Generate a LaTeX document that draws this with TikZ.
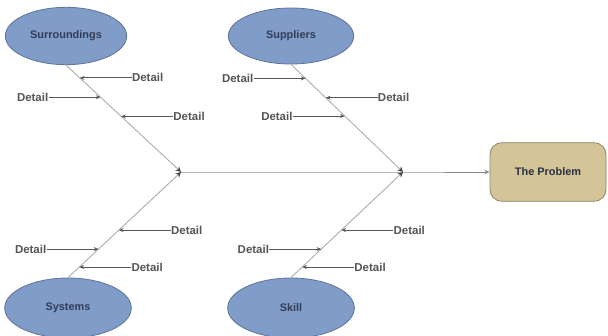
\documentclass[tikz,border=0pt]{standalone}
\usepackage{fontspec}
\setmainfont{Liberation Sans}
\usetikzlibrary{arrows.meta}
\usetikzlibrary{positioning}
\usetikzlibrary{shapes.geometric}

\definecolor{causefill}{RGB}{127,157,200}
\definecolor{causeline}{RGB}{95,115,150}
\definecolor{causetext}{RGB}{50,60,85}
\definecolor{probfill}{RGB}{212,197,152}
\definecolor{probline}{RGB}{140,130,105}
\definecolor{boneline}{RGB}{175,175,175}
\definecolor{spineline}{RGB}{140,140,140}
\definecolor{dettext}{RGB}{85,85,85}

\tikzset{
  cause/.style={ellipse, draw=causeline, fill=causefill, line width=0.6pt,
    minimum width=94pt, minimum height=43pt, text=causetext,
    font=\fontsize{8.2}{9}\selectfont\bfseries},
  problem/.style={rectangle, rounded corners=9pt, draw=probline, fill=probfill,
    line width=0.6pt, minimum width=87pt, minimum height=44pt,
    text=causetext!80!black, font=\fontsize{8.2}{9}\selectfont\bfseries},
  bone/.style={draw=boneline, line width=0.7pt, -{Stealth[length=4pt,width=4pt,color=black!75]}},
  spine/.style={draw=spineline, line width=0.6pt},
  detail/.style={inner sep=0pt, text=dettext, font=\fontsize{8.6}{9}\selectfont\bfseries},
  detarrow/.style={draw=black!65, line width=0.6pt, -{Stealth[length=3.5pt,width=3pt]}}
}

\begin{document}
\begin{tikzpicture}[x=0.75pt,y=0.75pt,yscale=-1,xscale=1]
\useasboundingbox (0,0) rectangle (608,336);

% causes
\node [cause, minimum width=91pt] (surr) at (66,36) {Surroundings};
\node [cause, minimum height=42pt] (supp) at (291,36) {Suppliers};
\node [cause, minimum width=95pt, minimum height=45pt] (syst) at (68,308) {Systems};
\node [cause, minimum width=95pt, minimum height=45pt] (skill) at (291,308) {Skill};

% the problem
\node [problem] (prob) at (548,172) {The Problem};

% junctions on the spine
\coordinate (j1) at (181,172);
\coordinate (j2) at (403,172);

% spine
\draw [spine, -{Stealth[length=4pt,width=3.5pt]}] (j1) -- (j2) -- (prob.west);

% bones
\draw [bone] (surr.south) -- (j1);
\draw [bone] (syst.north) -- (j1);
\draw [bone] (supp.south) -- (j2);
\draw [bone] (skill.north) -- (j2);

% points on the bones
\path (surr.south) -- (j1) coordinate[pos=0.12] (sa) coordinate[pos=0.30] (sb) coordinate[pos=0.48] (sc);
\path (supp.south) -- (j2) coordinate[pos=0.13] (pa) coordinate[pos=0.31] (pb) coordinate[pos=0.48] (pc);
\path (syst.north) -- (j1) coordinate[pos=0.10] (ya) coordinate[pos=0.27] (yb) coordinate[pos=0.45] (yc);
\path (skill.north) -- (j2) coordinate[pos=0.10] (ka) coordinate[pos=0.27] (kb) coordinate[pos=0.45] (kc);

% details
\node [detail, right=39pt of sa, anchor=west] (dsa) {Detail};
\node [detail, left=39pt of sb, anchor=east] (dsb) {Detail};
\node [detail, right=39pt of sc, anchor=west] (dsc) {Detail};
\node [detail, left=39pt of pa, anchor=east] (dpa) {Detail};
\node [detail, right=39pt of pb, anchor=west] (dpb) {Detail};
\node [detail, left=39pt of pc, anchor=east] (dpc) {Detail};
\node [detail, right=39pt of ya, anchor=west] (dya) {Detail};
\node [detail, left=39pt of yb, anchor=east] (dyb) {Detail};
\node [detail, right=39pt of yc, anchor=west] (dyc) {Detail};
\node [detail, right=39pt of ka, anchor=west] (dka) {Detail};
\node [detail, left=39pt of kb, anchor=east] (dkb) {Detail};
\node [detail, right=39pt of kc, anchor=west] (dkc) {Detail};

\foreach \d/\c in {dsa/sa,dsb/sb,dsc/sc,dpa/pa,dpb/pb,dpc/pc,dya/ya,dyb/yb,dyc/yc,dka/ka,dkb/kb,dkc/kc}
  \draw [detarrow] (\d) -- (\c);

\end{tikzpicture}
\end{document}
